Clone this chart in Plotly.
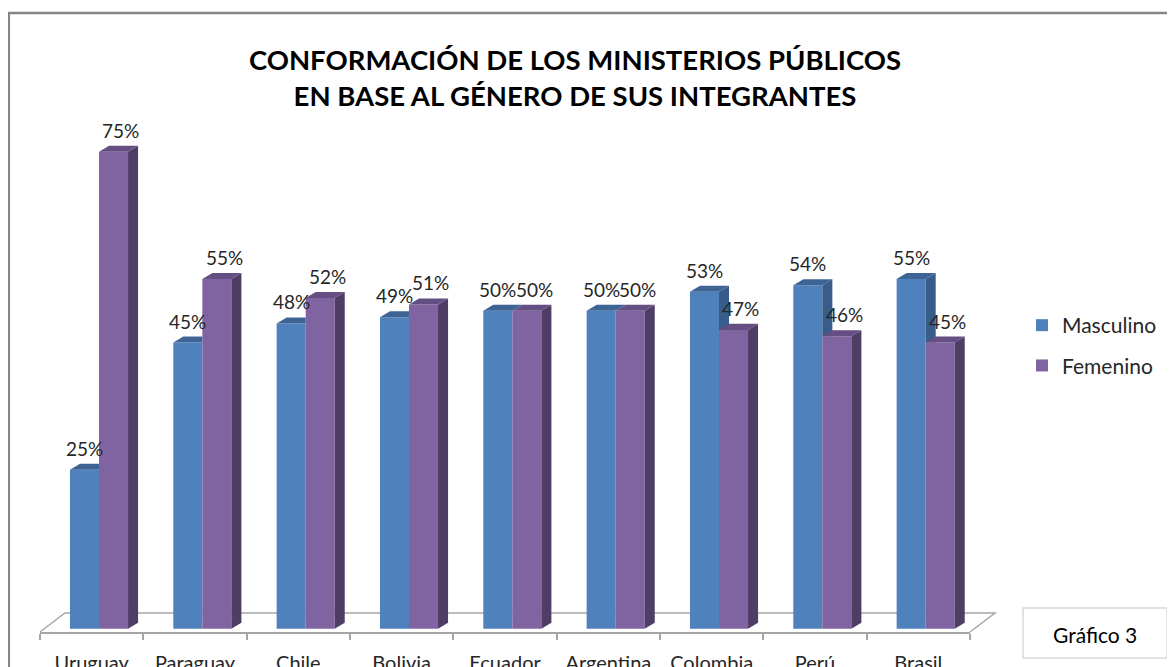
import plotly.graph_objects as go

# ---------------- data ----------------
countries = ["Uruguay", "Paraguay", "Chile", "Bolivia", "Ecuador",
             "Argentina", "Colombia", "Perú", "Brasil"]
masculino = [25, 45, 48, 49, 50, 50, 53, 54, 55]
femenino = [75, 55, 52, 51, 50, 50, 47, 46, 45]
series_names = ["Masculino", "Femenino"]

# ---------------- style ----------------
W, H = 1175, 667
OFF = 8   # page body margin: reference pixel -> figure pixel
FONT = "Lato, Carlito, Calibri, 'Open Sans', sans-serif"
M_FRONT, M_SIDE, M_TOP = "#4F81BD", "#385D8A", "#3D6494"
F_FRONT, F_SIDE, F_TOP = "#8064A2", "#4F3D66", "#654E82"
GRID = "#A6A6A6"
TXT = "#262626"

BAR_W = 0.281
M_OFF = -0.21
F_OFF = M_OFF + BAR_W
DX = 0.097      # depth in x units
DY = 0.95       # depth in y units (%)


def px_paper(xpix):
    return (xpix - OFF) / W


def py_paper(ypix):
    return (H - (ypix - OFF)) / H


fig = go.Figure()

fig.add_trace(go.Bar(x=list(range(len(countries))), y=masculino, name=series_names[0],
                     offset=M_OFF, width=BAR_W, marker=dict(color=M_FRONT, line=dict(width=0)),
                     legendgroup="m", hoverinfo="skip"))
fig.add_trace(go.Bar(x=list(range(len(countries))), y=femenino, name=series_names[1],
                     offset=F_OFF, width=BAR_W, marker=dict(color=F_FRONT, line=dict(width=0)),
                     legendgroup="f", hoverinfo="skip"))

# 3D faces computed from the data values
m_side_x, m_side_y, m_top_x, m_top_y = [], [], [], []
f_side_x, f_side_y, f_top_x, f_top_y = [], [], [], []
for i, (m, f) in enumerate(zip(masculino, femenino)):
    xl = i + M_OFF
    xm = xl + BAR_W
    xr = xm + BAR_W
    if m > f:
        m_side_x += [xm, xm + DX, xm + DX, xm, xm, None]
        m_side_y += [f, f, m + DY, m, f, None]
    if f >= m + DY:
        m_top_x += [xl, xl + DX, xm, xm, xl, None]
        m_top_y += [m, m + DY, m + DY, m, m, None]
    else:
        m_top_x += [xl, xl + DX, xm + DX, xm, xl, None]
        m_top_y += [m, m + DY, m + DY, m, m, None]
    f_side_x += [xr, xr + DX, xr + DX, xr, xr, None]
    f_side_y += [0, DY, f + DY, f, 0, None]
    f_top_x += [xm, xm + DX, xr + DX, xr, xm, None]
    f_top_y += [f, f + DY, f + DY, f, f, None]

for xs, ys, col in [(m_side_x, m_side_y, M_SIDE), (m_top_x, m_top_y, M_TOP),
                    (f_side_x, f_side_y, F_SIDE), (f_top_x, f_top_y, F_TOP)]:
    fig.add_trace(go.Scatter(x=xs, y=ys, mode="lines", fill="toself", fillcolor=col,
                             line=dict(width=0, color=col), showlegend=False,
                             hoverinfo="skip"))

# data labels
annotations = []
for i, (m, f) in enumerate(zip(masculino, femenino)):
    annotations.append(dict(x=i + M_OFF + BAR_W / 2, y=m + DY, xref="x", yref="y",
                            text=f"{m}%", showarrow=False, yanchor="bottom", yshift=2,
                            font=dict(family=FONT, size=19, color=TXT)))
    annotations.append(dict(x=i + F_OFF + BAR_W / 2 + 0.07, y=f + DY, xref="x", yref="y",
                            text=f"{f}%", showarrow=False, yanchor="bottom", yshift=2,
                            font=dict(family=FONT, size=19, color=TXT)))

annotations.append(dict(x=px_paper(1095), y=py_paper(634), xref="paper", yref="paper",
                        text="Gráfico 3", showarrow=False, xanchor="center", yanchor="middle",
                        font=dict(family=FONT, size=21, color="#000000")))

# floor (back and side edges) and frames
floor_path = ("M {:.5f},{:.5f} L {:.5f},{:.5f} L {:.5f},{:.5f} L {:.5f},{:.5f}".format(
    px_paper(40), py_paper(632), px_paper(65), py_paper(613),
    px_paper(995), py_paper(613), px_paper(970), py_paper(632)))

shapes = [
    dict(type="path", path=floor_path, xref="paper", yref="paper",
         line=dict(color=GRID, width=1.5), layer="below"),
    dict(type="rect", xref="paper", yref="paper",
         x0=px_paper(8.8), x1=1.05, y0=-0.05, y1=py_paper(13),
         line=dict(color="#868686", width=2.5)),
    dict(type="rect", xref="paper", yref="paper",
         x0=px_paper(1023), x1=px_paper(1167), y0=py_paper(658), y1=py_paper(608),
         line=dict(color="#D9D9D9", width=1.5)),
]

fig.update_layout(
    width=W, height=H,
    margin=dict(l=0, r=0, t=0, b=0),
    paper_bgcolor="white", plot_bgcolor="rgba(0,0,0,0)",
    barmode="overlay",
    font=dict(family=FONT, color=TXT),
    title=dict(text="CONFORMACIÓN DE LOS MINISTERIOS PÚBLICOS<br>EN BASE AL GÉNERO DE SUS INTEGRANTES",
               x=px_paper(575), xanchor="center", y=py_paper(70), yanchor="top", yref="container",
               font=dict(family=FONT, size=27.5, color="#000000", weight="bold")),
    xaxis=dict(domain=[px_paper(40), px_paper(970)], range=[-0.5, len(countries) - 0.5],
               tickmode="array", tickvals=list(range(len(countries))), ticktext=countries,
               ticks="", showgrid=False, zeroline=False,
               showline=True, linecolor=GRID, linewidth=1.5,
               ticklabelstandoff=12,
               tickfont=dict(family=FONT, size=20, color=TXT),
               minor=dict(tickmode="array",
                          tickvals=[k - 0.5 for k in range(len(countries) + 1)],
                          ticks="outside", ticklen=6, tickcolor=GRID, tickwidth=1.5,
                          showgrid=False)),
    yaxis=dict(domain=[py_paper(632), py_paper(120)], range=[-0.5, 80],
               visible=False, showgrid=False, zeroline=False),
    legend=dict(x=px_paper(1022), y=py_paper(305), xanchor="left", yanchor="top",
                traceorder="grouped", tracegroupgap=10,
                font=dict(family=FONT, size=21, color=TXT),
                bgcolor="rgba(0,0,0,0)"),
    annotations=annotations,
    shapes=shapes,
)

fig.write_html("out.html")
